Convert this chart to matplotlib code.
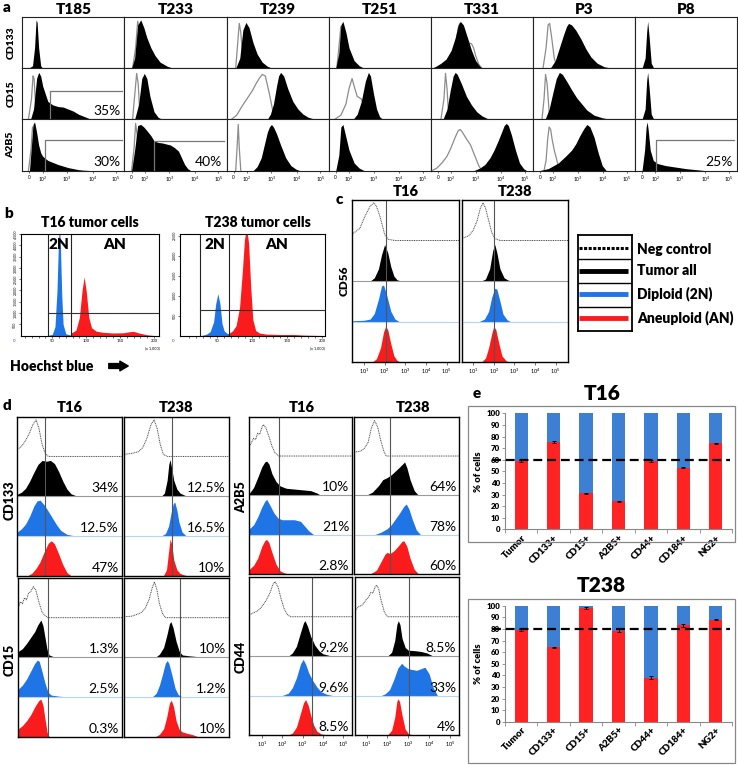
import numpy as np
import matplotlib.pyplot as plt

plt.rcParams['font.family'] = ['Lato', 'DejaVu Sans']

W, H = 738, 765
BLUE = '#1f74e6'
RED = '#fa1c1c'
BAR_BLUE = '#3d80d3'
BAR_RED = '#ff2323'
BOLD = 'heavy'

# ---------------- panel a: histograms (x = display channel 0-1000, y = % of scale)
a_samples = ['T185', 'T233', 'T239', 'T251', 'T331', 'P3', 'P8']
a_markers = ['CD133', 'CD15', 'A2B5']
a_tick_channels = [70, 200, 440, 690, 920]
a_tick_labels = ['0', '10$^2$', '10$^3$', '10$^4$', '10$^5$']

a_cd133_stain = {
    'T185': ([60, 100, 120, 135, 145, 160, 180, 200], [0, 5, 40, 95, 90, 40, 5, 0]),
    'T233': ([70, 100, 130, 160, 190, 220, 260, 300, 350, 420, 480], [0, 20, 85, 95, 80, 60, 40, 25, 12, 4, 0]),
    'T239': ([90, 130, 160, 190, 220, 260, 300, 350, 400, 450], [0, 20, 75, 90, 80, 50, 28, 12, 4, 0]),
    'T251': ([70, 100, 120, 140, 170, 200, 250, 300, 350], [0, 30, 85, 92, 70, 40, 15, 5, 0]),
    'T331': ([10, 60, 100, 150, 200, 240, 270, 290, 320, 360, 400, 440, 480, 510],
             [0, 5, 10, 18, 35, 60, 85, 92, 85, 60, 35, 15, 4, 0]),
    'P3': ([170, 220, 260, 300, 330, 350, 380, 420, 470, 520, 570, 630, 700, 780],
           [0, 15, 40, 65, 82, 88, 85, 75, 58, 38, 22, 10, 3, 0]),
    'P8': ([70, 100, 115, 125, 140, 160, 185], [0, 20, 70, 92, 60, 10, 0]),
}
a_cd133_ctrl = {
    'T233': ([80, 110, 130, 150, 170, 200], [0, 40, 92, 70, 20, 0]),
    'T239': ([90, 110, 125, 140, 160, 190], [0, 50, 88, 70, 20, 0]),
    'T251': ([80, 105, 120, 135, 155, 180], [0, 50, 82, 60, 15, 0]),
    'T331': ([200, 240, 270, 285, 300, 330, 370, 400, 420, 440, 470, 500],
             [0, 40, 80, 88, 80, 62, 50, 48, 40, 25, 8, 0]),
    'P3': ([100, 130, 150, 165, 185, 210, 240], [0, 40, 85, 88, 60, 20, 0]),
}
a_cd15_stain = {
    'T185': ([80, 110, 140, 160, 180, 200, 250, 300, 350, 400, 450, 500, 550, 600, 650, 680],
             [0, 20, 80, 92, 85, 65, 35, 28, 25, 24, 20, 16, 10, 6, 2, 0]),
    'T233': ([100, 140, 170, 195, 220, 250, 290, 330, 370], [0, 30, 80, 90, 80, 45, 15, 4, 0]),
    'T239': ([400, 430, 460, 490, 510, 530, 560, 600, 650, 700, 750, 800, 870],
             [0, 10, 30, 65, 85, 92, 85, 60, 35, 20, 10, 4, 0]),
    'T251': ([240, 280, 320, 360, 390, 410, 440, 470, 500, 530], [0, 10, 35, 75, 92, 85, 50, 20, 5, 0]),
    'T331': ([120, 160, 190, 220, 240, 260, 300, 350, 400, 450, 500, 550, 590],
             [0, 20, 55, 85, 92, 88, 70, 45, 28, 15, 7, 2, 0]),
    'P3': ([120, 160, 200, 230, 260, 290, 330, 380, 430, 480, 530, 600, 680, 760],
           [0, 20, 55, 80, 92, 88, 75, 58, 42, 30, 18, 8, 3, 0]),
    'P8': ([70, 100, 115, 125, 140, 160, 185], [0, 20, 75, 92, 60, 10, 0]),
}
a_cd15_ctrl = {
    'T185': ([60, 90, 105, 115, 130, 150, 170], [0, 40, 85, 80, 30, 5, 0]),
    'T233': ([80, 100, 120, 135, 150, 170], [0, 45, 90, 70, 15, 0]),
    'T239': ([50, 100, 150, 200, 250, 290, 320, 350, 380, 420, 460, 480],
             [0, 8, 25, 40, 55, 70, 80, 88, 85, 50, 10, 0]),
    'T251': ([60, 120, 170, 200, 230, 250, 280, 320, 360, 400], [0, 8, 30, 60, 80, 65, 45, 40, 20, 0]),
    'T331': ([100, 130, 145, 160, 175, 200], [0, 40, 90, 60, 10, 0]),
    'P3': ([90, 110, 125, 140, 160, 190], [0, 40, 88, 70, 15, 0]),
}
a_a2b5_stain = {
    'T185': ([70, 90, 105, 120, 140, 160, 180, 200, 250, 300, 350, 400, 450, 500, 550, 600, 650, 680],
             [0, 50, 90, 95, 75, 50, 35, 28, 20, 16, 12, 9, 6, 4, 2, 1, 0.5, 0]),
    'T233': ([70, 100, 130, 160, 190, 220, 260, 290, 330, 370, 410, 450, 490, 530, 560, 590, 620, 650],
             [0, 40, 88, 90, 85, 78, 68, 58, 55, 54, 52, 50, 45, 38, 25, 12, 4, 0]),
    'T239': ([260, 300, 340, 370, 400, 420, 440, 460, 490, 530, 580, 630, 680, 720],
             [0, 8, 25, 50, 75, 85, 90, 85, 72, 50, 25, 10, 3, 0]),
    'T251': ([70, 100, 120, 140, 170, 200, 250, 300, 350], [0, 30, 85, 90, 65, 40, 15, 5, 0]),
    'T331': ([420, 480, 530, 580, 620, 660, 700, 720, 740, 760, 790, 830, 870, 910, 940],
             [0, 5, 12, 25, 40, 58, 78, 88, 92, 88, 70, 40, 15, 4, 0]),
    'P3': ([60, 150, 250, 320, 380, 420, 460, 500, 530, 560, 600, 640, 680, 720],
           [0, 4, 15, 28, 40, 52, 68, 82, 90, 85, 65, 35, 10, 0]),
    'P8': ([70, 95, 110, 120, 130, 150, 180, 220, 300, 400, 500, 600, 700],
           [0, 40, 85, 95, 80, 40, 20, 14, 10, 7, 4, 2, 0]),
}
a_a2b5_ctrl = {
    'T185': ([60, 85, 100, 115, 135, 160], [0, 40, 85, 70, 20, 0]),
    'T233': ([70, 95, 110, 125, 140, 160], [0, 45, 92, 70, 15, 0]),
    'T239': ([90, 105, 115, 125, 140], [0, 50, 90, 45, 0]),
    'T331': ([10, 60, 110, 160, 200, 240, 270, 290, 310, 350, 390, 430, 470, 500],
             [0, 5, 15, 28, 45, 65, 78, 80, 75, 62, 50, 30, 10, 0]),
    'P3': ([110, 130, 145, 160, 175, 190, 210, 230, 250, 270], [0, 20, 60, 85, 80, 60, 40, 25, 8, 0]),
}
a_gates = {('CD15', 'T185'): (270, 55), ('A2B5', 'T185'): (220, 60),
           ('A2B5', 'T233'): (290, 58), ('A2B5', 'P8'): (210, 60)}
a_pct = {('CD15', 'T185'): '35%', ('A2B5', 'T185'): '30%',
         ('A2B5', 'T233'): '40%', ('A2B5', 'P8'): '25%'}

# ---------------- panel b: Hoechst DNA content (x in thousands, y = count)
b_t16_2n = ([43, 50, 54, 57, 59, 60.5, 62, 64, 66, 70, 77], [10, 60, 400, 2000, 4000, 5000, 4000, 1800, 500, 80, 30])
b_t16_an = ([77, 80, 85, 90, 94, 97, 100, 104, 108, 115, 125, 140, 155, 165, 170, 178, 190, 200],
            [120, 150, 250, 800, 2000, 2600, 2000, 800, 350, 200, 150, 120, 130, 180, 190, 120, 40, 10])
b_t16_gates = (43.2, 77.1, 1020)
b_t238_2n = ([25, 30, 35, 40, 45, 48, 51, 54, 57, 60, 64, 67], [0, 15, 40, 100, 350, 800, 1050, 800, 300, 120, 60, 50])
b_t238_an = ([67, 72, 77, 82, 86, 89, 92, 95, 98, 101, 105, 110, 120, 140, 160, 175, 200],
             [60, 120, 250, 700, 1600, 2400, 2700, 2300, 1200, 400, 130, 70, 40, 30, 30, 15, 5])
b_t238_gates = (25.3, 67.1, 630)

# ---------------- panel c: CD56 overlays (x = log10 intensity, y = % of row)
c_t16 = {
    'neg': ([0.42, 0.8, 1.05, 1.3, 1.48, 1.6, 1.77, 1.9, 2.0, 2.17, 2.5, 5.6], [15, 30, 60, 85, 93, 85, 60, 35, 15, 3, 0, 0]),
    'all': ([1.3, 1.5, 1.7, 1.85, 2.0, 2.15, 2.3, 2.45, 2.6, 2.8], [0, 8, 30, 65, 90, 70, 35, 12, 3, 0]),
    '2N': ([0.45, 1.0, 1.3, 1.5, 1.7, 1.85, 1.95, 2.1, 2.3, 2.5, 2.7], [2, 3, 6, 20, 55, 88, 90, 65, 25, 6, 0]),
    'AN': ([1.4, 1.6, 1.8, 1.95, 2.05, 2.15, 2.3, 2.45, 2.6, 2.75], [0, 8, 35, 75, 88, 80, 45, 15, 4, 0]),
}
c_t238 = {
    'neg': ([0.46, 0.8, 1.0, 1.2, 1.35, 1.48, 1.6, 1.75, 1.9, 2.05, 2.3, 5.6], [5, 12, 25, 50, 80, 93, 80, 50, 20, 5, 0, 0]),
    'all': ([1.4, 1.6, 1.8, 1.95, 2.05, 2.15, 2.3, 2.5, 2.7, 2.9], [0, 5, 30, 75, 90, 70, 30, 8, 2, 0]),
    '2N': ([1.3, 1.55, 1.75, 1.9, 2.05, 2.15, 2.3, 2.45, 2.65, 2.8], [0, 6, 25, 60, 82, 80, 50, 18, 4, 0]),
    'AN': ([1.4, 1.6, 1.75, 1.9, 2.0, 2.1, 2.25, 2.4, 2.6, 2.75], [0, 10, 35, 70, 88, 80, 45, 15, 3, 0]),
}
c_gates = [2.05, 2.0]

# ---------------- panel d: marker overlays
d_cd133_t16 = {
    'neg': ([0.4, 0.6, 0.8, 1.0, 1.15, 1.31, 1.45, 1.6, 1.75, 1.9, 5.45], [18, 25, 40, 60, 80, 92, 70, 30, 8, 0, 0]),
    'all': ([0.4, 0.6, 0.8, 1.0, 1.2, 1.4, 1.6, 1.8, 2.0, 2.2, 2.4, 2.6, 2.8, 3.0, 3.3],
            [5, 10, 20, 38, 60, 80, 90, 88, 90, 82, 62, 38, 18, 6, 0]),
    '2N': ([0.4, 0.6, 0.8, 1.0, 1.2, 1.35, 1.5, 1.7, 1.9, 2.1, 2.3, 2.5, 2.8, 3.2],
           [10, 18, 30, 50, 75, 88, 90, 78, 62, 45, 28, 14, 4, 0]),
    'AN': ([0.9, 1.1, 1.3, 1.5, 1.7, 1.9, 2.05, 2.2, 2.4, 2.6, 2.8, 3.0], [0, 6, 18, 35, 60, 82, 88, 80, 55, 28, 8, 0]),
}
d_cd133_t238 = {
    'neg': ([0.4, 0.8, 1.1, 1.3, 1.5, 1.7, 1.85, 2.0, 2.15, 2.3, 2.5, 5.45], [5, 8, 12, 22, 45, 80, 92, 70, 30, 5, 0, 0]),
    'all': ([2.2, 2.35, 2.48, 2.56, 2.62, 2.7, 2.8, 2.95, 3.1, 3.3, 3.45], [0, 8, 40, 80, 92, 70, 40, 18, 8, 3, 0]),
    '2N': ([2.2, 2.4, 2.55, 2.68, 2.78, 2.85, 2.95, 3.05, 3.2, 3.4], [0, 6, 25, 60, 82, 85, 65, 35, 10, 0]),
    'AN': ([2.3, 2.45, 2.55, 2.62, 2.7, 2.8, 2.95, 3.1, 3.3, 3.45], [0, 15, 60, 92, 80, 40, 15, 6, 2, 0]),
}
d_cd15_t16 = {
    'neg': ([0.4, 0.5, 0.6, 0.7, 0.8, 0.9, 1.0, 1.13, 1.25, 1.4, 1.55, 1.7, 1.85, 5.45],
            [25, 40, 35, 50, 45, 62, 65, 78, 70, 40, 15, 5, 0, 0]),
    'all': ([0.4, 0.6, 0.8, 1.0, 1.2, 1.35, 1.5, 1.6, 1.7, 1.8, 1.9, 2.1, 2.4], [15, 22, 35, 50, 65, 82, 94, 80, 50, 20, 6, 2, 0]),
    '2N': ([0.4, 0.6, 0.8, 1.0, 1.2, 1.32, 1.42, 1.55, 1.7, 1.85, 2.0, 2.4, 2.9], [20, 30, 45, 65, 85, 93, 90, 65, 35, 12, 5, 2, 0]),
    'AN': ([0.4, 0.6, 0.8, 1.0, 1.2, 1.38, 1.5, 1.6, 1.7, 1.8, 1.9], [20, 28, 40, 55, 75, 90, 95, 80, 45, 12, 0]),
}
d_cd15_t238 = {
    'neg': ([0.4, 0.8, 1.0, 1.2, 1.4, 1.6, 1.75, 1.86, 1.98, 2.1, 2.25, 2.4, 5.45], [2, 4, 8, 12, 22, 45, 75, 90, 70, 35, 10, 0, 0]),
    'all': ([1.9, 2.1, 2.3, 2.45, 2.58, 2.65, 2.75, 2.9, 3.05, 3.2, 3.5, 3.9, 4.2], [0, 8, 25, 55, 85, 90, 75, 40, 15, 6, 4, 2, 0]),
    '2N': ([1.75, 1.95, 2.1, 2.25, 2.38, 2.47, 2.55, 2.7, 2.85, 3.0, 3.2], [0, 10, 30, 58, 85, 92, 85, 55, 22, 6, 0]),
    'AN': ([1.9, 2.1, 2.3, 2.45, 2.58, 2.67, 2.78, 2.9, 3.05, 3.2, 3.4, 3.7, 3.95], [0, 6, 20, 50, 85, 92, 75, 40, 18, 12, 9, 5, 0]),
}
d_a2b5_t16 = {
    'neg': ([0.39, 0.5, 0.6, 0.7, 0.8, 0.9, 1.0, 1.08, 1.2, 1.35, 1.5, 1.65, 1.84, 5.44],
            [24, 35, 45, 42, 58, 55, 72, 80, 72, 50, 25, 8, 0, 0]),
    'all': ([0.39, 0.6, 0.8, 1.0, 1.15, 1.24, 1.35, 1.5, 1.7, 1.9, 2.2, 2.6, 3.0, 3.4, 3.7, 3.9],
            [5, 20, 45, 72, 85, 87, 80, 55, 35, 24, 18, 16, 14, 12, 6, 0]),
    '2N': ([0.39, 0.6, 0.8, 1.0, 1.15, 1.24, 1.4, 1.6, 1.8, 2.0, 2.3, 2.6, 2.9, 3.1, 3.3, 3.55],
           [15, 25, 45, 70, 85, 90, 75, 55, 42, 38, 38, 38, 34, 22, 10, 0]),
    'AN': ([0.39, 0.6, 0.8, 1.0, 1.15, 1.24, 1.35, 1.5, 1.7, 1.9, 2.1, 2.3], [12, 22, 40, 70, 85, 88, 80, 55, 25, 8, 3, 0]),
}
d_a2b5_t238 = {
    'neg': ([0.44, 0.7, 0.9, 1.1, 1.25, 1.4, 1.55, 1.7, 1.85, 1.96, 5.45], [10, 12, 18, 35, 70, 90, 75, 40, 12, 0, 0]),
    'all': ([1.0, 1.3, 1.6, 1.8, 2.0, 2.2, 2.4, 2.6, 2.75, 2.84, 2.95, 3.1, 3.3, 3.5],
            [0, 8, 25, 40, 45, 52, 62, 72, 80, 85, 70, 40, 12, 0]),
    '2N': ([1.4, 1.7, 2.0, 2.2, 2.4, 2.6, 2.8, 2.92, 3.05, 3.2, 3.4, 3.6], [0, 6, 15, 25, 40, 55, 72, 78, 65, 40, 12, 0]),
    'AN': ([1.2, 1.5, 1.7, 1.9, 2.0, 2.15, 2.35, 2.55, 2.7, 2.8, 2.95, 3.1, 3.3, 3.5],
           [0, 10, 30, 50, 55, 52, 60, 72, 82, 85, 70, 40, 12, 0]),
}
d_cd44_t16 = {
    'neg': ([0.39, 0.6, 0.8, 1.0, 1.2, 1.4, 1.55, 1.65, 1.8, 1.95, 2.1, 2.25, 2.4, 5.44],
            [5, 10, 15, 25, 40, 60, 82, 89, 75, 45, 20, 6, 0, 0]),
    'all': ([2.3, 2.5, 2.7, 2.9, 3.05, 3.12, 3.25, 3.4, 3.6, 3.8, 4.0, 4.3, 4.5], [0, 8, 25, 60, 85, 90, 75, 50, 28, 14, 6, 2, 0]),
    '2N': ([2.0, 2.3, 2.5, 2.7, 2.9, 3.03, 3.15, 3.3, 3.5, 3.7, 3.9, 4.2, 4.5], [0, 6, 20, 45, 80, 92, 80, 58, 38, 22, 10, 3, 0]),
    'AN': ([2.3, 2.5, 2.7, 2.9, 3.05, 3.15, 3.28, 3.4, 3.55, 3.7, 3.9, 4.2], [0, 5, 20, 55, 82, 90, 75, 50, 25, 10, 3, 0]),
}
d_cd44_t238 = {
    'neg': ([0.44, 0.6, 0.8, 1.0, 1.1, 1.2, 1.3, 1.4, 1.48, 1.58, 1.7, 1.85, 2.0, 5.45],
            [15, 25, 30, 45, 50, 62, 60, 75, 80, 70, 40, 12, 0, 0]),
    'all': ([2.0, 2.2, 2.35, 2.45, 2.52, 2.6, 2.7, 2.85, 3.0, 3.3, 3.6, 3.9, 4.2], [0, 10, 40, 80, 90, 80, 45, 22, 15, 14, 12, 8, 0]),
    '2N': ([1.7, 1.9, 2.1, 2.3, 2.5, 2.68, 2.8, 3.0, 3.2, 3.4, 3.6, 3.8, 4.0, 4.2, 4.4],
           [0, 5, 15, 40, 70, 82, 75, 68, 66, 64, 68, 72, 55, 20, 0]),
    'AN': ([2.0, 2.2, 2.35, 2.45, 2.5, 2.58, 2.7, 2.85, 3.0, 3.2], [0, 12, 45, 85, 92, 85, 50, 15, 4, 0]),
}
d_gates = {'cd133_t16': 1.74, 'cd133_t238': 2.7, 'cd15_t16': 1.86, 'cd15_t238': 3.08,
           'a2b5_t16': 1.86, 'a2b5_t238': 2.12, 'cd44_t16': 3.48, 'cd44_t238': 3.05}
d_pct = {'cd133_t16': ['34%', '12.5%', '47%'], 'cd133_t238': ['12.5%', '16.5%', '10%'],
         'cd15_t16': ['1.3%', '2.5%', '0.3%'], 'cd15_t238': ['10%', '1.2%', '10%'],
         'a2b5_t16': ['10%', '21%', '2.8%'], 'a2b5_t238': ['64%', '78%', '60%'],
         'cd44_t16': ['9.2%', '9.6%', '8.5%'], 'cd44_t238': ['8.5%', '33%', '4%']}

# ---------------- panel e: % aneuploid (red) vs diploid (blue)
e_groups = ['Tumor', 'CD133+', 'CD15+', 'A2B5+', 'CD44+', 'CD184+', 'NG2+']
e_t16_an = [59, 75, 31, 24, 59, 53, 74]
e_t16_err = [0.6, 0.8, 0.5, 0.5, 0.6, 0.5, 0.5]
e_t16_ref = 60
e_t238_an = [79, 64, 98, 78.5, 38, 83, 88]
e_t238_err = [0.5, 0.8, 0.6, 1.2, 1.5, 1.5, 0.6]
e_t238_ref = 80


fig = plt.figure(figsize=(W / 100, H / 100), dpi=100)


def add_box(l, t, r, b):
    return fig.add_axes([l / W, 1 - b / H, (r - l) / W, (b - t) / H])


def put(x, y, s, **kw):
    fig.text(x / W, 1 - y / H, s, **kw)


def bare(ax):
    ax.set_xticks([])
    ax.set_yticks([])


# ---- a
a_left, a_right = 22.3, 737
a_rows = [17.3, 68.3, 119.3, 170.7]
cw = (a_right - a_left) / 7
stains = [a_cd133_stain, a_cd15_stain, a_a2b5_stain]
ctrls = [a_cd133_ctrl, a_cd15_ctrl, a_a2b5_ctrl]
put(3, 7, 'a', fontsize=11, fontweight=BOLD, va='center')
for i, s in enumerate(a_samples):
    put(a_left + (i + 0.5) * cw, 10, s, fontsize=11, fontweight=BOLD, ha='center', va='center')
for j, marker in enumerate(a_markers):
    put(11, (a_rows[j] + a_rows[j + 1]) / 2, marker, fontsize=7.5, fontweight=BOLD,
        rotation=90, ha='center', va='center')
    for i, s in enumerate(a_samples):
        ax = add_box(a_left + i * cw, a_rows[j], a_left + (i + 1) * cw, a_rows[j + 1])
        ax.set_xlim(0, 1000)
        ax.set_ylim(0, 100)
        c = ctrls[j].get(s)
        if c:
            ax.plot(c[0], c[1], color='#8c8c8c', lw=0.9, zorder=1)
        x, y = stains[j][s]
        ax.fill_between(x, y, color='black', lw=0, zorder=2)
        g = a_gates.get((marker, s))
        if g:
            ax.plot([g[0], g[0], 975], [0, g[1], g[1]], color='#777', lw=0.9, zorder=3)
            ax.text(0.96, 0.05, a_pct[(marker, s)], transform=ax.transAxes, ha='right',
                    va='bottom', fontsize=10)
        for sp in ax.spines.values():
            sp.set_linewidth(0.8)
            sp.set_color('#222')
        if j == 2:
            ax.set_xticks(a_tick_channels)
            ax.set_xticklabels(a_tick_labels, fontsize=3.5)
            ax.tick_params(axis='x', length=1.5, width=0.4, pad=1.5)
            ax.set_yticks([])
        else:
            bare(ax)

# ---- b
put(4, 213, 'b', fontsize=11, fontweight=BOLD, va='center')


def draw_dna(ax, dip, aneu, gates, xlim, ylim, yticks):
    ax.set_xlim(*xlim)
    ax.set_ylim(0, ylim)
    ax.fill_between(dip[0], dip[1], color=BLUE, lw=0)
    ax.fill_between(aneu[0], aneu[1], color=RED, lw=0)
    g1, g2, gy = gates
    ax.axvline(g1, color='#222', lw=0.8)
    ax.axvline(g2, color='#222', lw=0.8)
    ax.plot([g1, xlim[1]], [gy, gy], color='#333', lw=0.8)
    ax.text((g1 + g2) / 2, ylim * 0.9, '2N', ha='center', va='center', fontsize=11, fontweight=BOLD)
    ax.text((g2 + xlim[1]) / 2, ylim * 0.9, 'AN', ha='center', va='center', fontsize=11, fontweight=BOLD)
    ax.set_xticks([50, 100, 150, 200])
    ax.set_xticks(np.arange(10, 210, 10), minor=True)
    ax.set_xticklabels(['50', '100', '150', '200'], fontsize=3)
    ax.set_yticks(yticks)
    ax.set_yticklabels([f'{v:,}' for v in yticks], fontsize=2.6, rotation=90, va='center')
    ax.tick_params(which='both', length=1.5, width=0.4, pad=1)
    ax.text(1.0, -0.11, '(x 1,000)', transform=ax.transAxes, fontsize=2.8, ha='right', va='top')
    ax.text(-0.05, -0.05, '0', transform=ax.transAxes, fontsize=3.2, color='#3344aa', ha='center', va='center')
    for sp in ax.spines.values():
        sp.set_linewidth(0.8)


ax = add_box(20.7, 234, 159.3, 335.7)
draw_dna(ax, b_t16_2n, b_t16_an, b_t16_gates, (3.4, 208), 4500, list(range(500, 4501, 500)))
put(90, 222, 'T16 tumor cells', fontsize=10, fontweight=BOLD, ha='center', va='center')
ax = add_box(180, 234, 325, 335.7)
draw_dna(ax, b_t238_2n, b_t238_an, b_t238_gates, (-3, 204), 2540, [500, 1000, 1500, 2000, 2500])
put(258, 222, 'T238 tumor cells', fontsize=10, fontweight=BOLD, ha='center', va='center')
put(10, 366, 'Hoechst blue', fontsize=10, fontweight=BOLD, ha='left', va='center')
fig.add_artist(plt.matplotlib.patches.FancyArrowPatch(
    (106 / W, 1 - 366 / H), (131 / W, 1 - 366 / H), transform=fig.transFigure,
    arrowstyle='simple,head_length=0.6,head_width=0.7,tail_width=0.35', mutation_scale=10,
    color='black'))


# ---- c / d stacks
def draw_stack(ax, curves, gate, lo, hi, pcts=None, ticks=False):
    ax.set_xscale('log')
    ax.set_xlim(10 ** lo, 10 ** hi)
    ax.set_ylim(0, 400)
    x, y = curves['neg']
    ax.plot(10 ** np.array(x), 300 + np.array(y), color='#444', lw=0.7, ls=(0, (1, 0.8)))
    ax.axhline(200, color='#9a9a9a', lw=0.8)
    ax.axhline(100, color='#b8d4f4', lw=0.8)
    for base, key, col in [(200, 'all', 'black'), (100, '2N', BLUE), (0, 'AN', RED)]:
        x, y = curves[key]
        ax.fill_between(10 ** np.array(x), base, base + np.array(y), color=col, lw=0)
    ax.axvline(10 ** gate, color='#555', lw=0.8)
    if pcts:
        for base, p in zip([200, 100, 0], pcts):
            ax.text(0.97, (base + 5) / 400, p, transform=ax.transAxes, ha='right', va='bottom', fontsize=10)
    ax.set_yticks([])
    if ticks:
        ax.tick_params(axis='x', which='major', labelsize=4, length=2, width=0.4, pad=1.5)
        ax.tick_params(axis='x', which='minor', length=1, width=0.3)
        ax.set_xticks([10, 100, 1e3, 1e4, 1e5])
    else:
        ax.tick_params(axis='x', which='both', bottom=False, labelbottom=False)
    for sp in ax.spines.values():
        sp.set_linewidth(1.0)


put(336, 200, 'c', fontsize=11, fontweight=BOLD, va='center')
ax = add_box(352, 200, 459, 362)
draw_stack(ax, c_t16, c_gates[0], 0.42, 5.6, ticks=True)
ax = add_box(462, 200, 568, 362)
draw_stack(ax, c_t238, c_gates[1], 0.46, 5.6, ticks=True)
put(405.5, 191, 'T16', fontsize=10.5, fontweight=BOLD, ha='center', va='center')
put(515, 191, 'T238', fontsize=10.5, fontweight=BOLD, ha='center', va='center')
put(344, 281, 'CD56', fontsize=8.5, fontweight=BOLD, rotation=90, ha='center', va='center')

# legend table
lg = add_box(577.7, 235, 631.7, 331)
lg.set_xlim(0, 1)
lg.set_ylim(0, 4)
bare(lg)
for v in [1, 2, 3]:
    lg.axhline(v, color='black', lw=1.0)
for sp in lg.spines.values():
    sp.set_linewidth(1.3)
lg_names = ['Neg control', 'Tumor all', 'Diploid (2N)', 'Aneuploid (AN)']
lg_styles = [('black', (0, (1, 0.5)), 2.2), ('black', '-', 3.5), (BLUE, '-', 3.5), (RED, '-', 3.5)]
lg_y = [3.45, 2.5, 1.55, 0.55]
for name, (col, ls, lw), yy, py in zip(lg_names, lg_styles, lg_y, [249, 270.7, 294, 318]):
    lg.plot([0.02, 0.94], [yy, yy], color=col, ls=ls, lw=lw, solid_capstyle='butt')
    put(637, py, name, fontsize=10, fontweight=BOLD, ha='left', va='center')

put(3, 405, 'd', fontsize=11, fontweight=BOLD, va='center')
d_layout = [
    ('cd133_t16', d_cd133_t16, (17.3, 416.7, 121.7, 575.7), 0.4, 5.45, False),
    ('cd133_t238', d_cd133_t238, (124, 416.7, 228.7, 575.7), 0.4, 5.45, False),
    ('cd15_t16', d_cd15_t16, (18.3, 578, 122, 736.7), 0.4, 5.45, False),
    ('cd15_t238', d_cd15_t238, (124, 578, 229.3, 736.7), 0.4, 5.45, False),
    ('a2b5_t16', d_a2b5_t16, (249.3, 416.7, 352.3, 574), 0.39, 5.44, False),
    ('a2b5_t238', d_a2b5_t238, (354.3, 416.7, 459.3, 574), 0.44, 5.45, False),
    ('cd44_t16', d_cd44_t16, (249.3, 577.3, 352.3, 735), 0.39, 5.44, True),
    ('cd44_t238', d_cd44_t238, (355, 577.3, 459.3, 735), 0.44, 5.45, True),
]
for key, curves, rect, lo, hi, ticks in d_layout:
    ax = add_box(*rect)
    draw_stack(ax, curves, d_gates[key], lo, hi, d_pct[key], ticks)
for x, s in [(70, 'T16'), (176, 'T238'), (302, 'T16'), (413, 'T238')]:
    put(x, 408, s, fontsize=10.5, fontweight=BOLD, ha='center', va='center')
for x, y, s in [(10, 500, 'CD133'), (10, 660, 'CD15'), (241, 497, 'A2B5'), (241, 657, 'CD44')]:
    put(x, y, s, fontsize=9, fontweight=BOLD, rotation=90, ha='center', va='center')

# ---- e
put(472.7, 394, 'e', fontsize=11, fontweight=BOLD, va='center')


def draw_bars(ax, an, err, ref):
    x = np.arange(len(e_groups))
    dip = 100 - np.array(an)
    ax.bar(x, an, width=0.41, color=BAR_RED, lw=0)
    ax.bar(x, dip, width=0.41, bottom=an, color=BAR_BLUE, lw=0)
    ax.errorbar(x, an, yerr=err, fmt='none', ecolor='black', elinewidth=0.6, capsize=1.5, capthick=0.6)
    ax.plot([-0.9, 6.44], [ref, ref], color='black', lw=1.6, ls=(0, (4, 2.2)), clip_on=False, zorder=5)
    ax.set_xlim(-0.5, 6.5)
    ax.set_ylim(0, 100)
    ax.set_yticks(range(0, 101, 10))
    ax.set_yticklabels([str(v) for v in range(0, 101, 10)], fontsize=5.8, fontweight=BOLD)
    ax.set_xticks(x)
    ax.set_xticklabels(e_groups, rotation=45, ha='right', rotation_mode='anchor', fontsize=7,
                       fontweight=BOLD)
    ax.set_xticks(np.arange(-0.5, 7, 1), minor=True)
    ax.tick_params(axis='x', which='major', length=0, pad=3)
    ax.tick_params(axis='x', which='minor', length=3, width=0.6, color='#888')
    ax.tick_params(axis='y', length=2, width=0.6, color='#888', pad=1.5)
    ax.set_ylabel('% of cells', fontsize=6.8, fontweight=BOLD, labelpad=2)
    for side in ['top', 'right']:
        ax.spines[side].set_visible(False)
    for side in ['left', 'bottom']:
        ax.spines[side].set_color('#888')
        ax.spines[side].set_linewidth(0.8)


for (l, t, r, b) in [(468.3, 406, 735, 541.7), (468.3, 599, 735, 763)]:
    fig.add_artist(plt.Rectangle((l / W, 1 - b / H), (r - l) / W, (b - t) / H, transform=fig.transFigure,
                                 fill=False, edgecolor='#888', lw=0.9))
ax = add_box(505, 413.3, 732, 529.3)
draw_bars(ax, e_t16_an, e_t16_err, e_t16_ref)
put(601.7, 394, 'T16', fontsize=15, fontweight=BOLD, ha='center', va='center')
ax = add_box(505, 605.7, 732, 721.7)
draw_bars(ax, e_t238_an, e_t238_err, e_t238_ref)
put(601.7, 585, 'T238', fontsize=15, fontweight=BOLD, ha='center', va='center')

fig.savefig('out.png', dpi=100)
